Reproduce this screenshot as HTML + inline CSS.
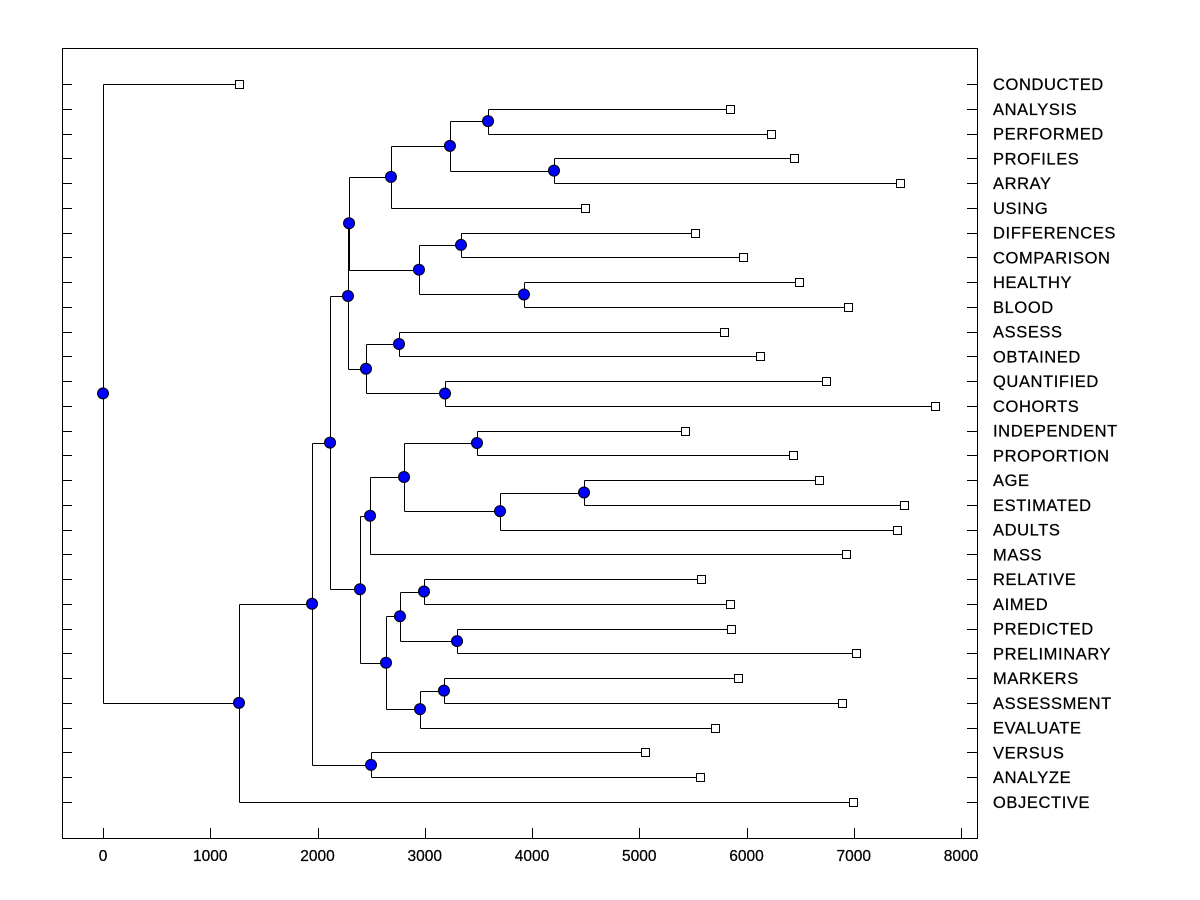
<!DOCTYPE html>
<html><head><meta charset="utf-8"><style>
html,body{margin:0;padding:0;background:#fff;}
svg{display:block;font-family:"Liberation Sans",Arial,sans-serif;}
</style></head><body>
<svg id="chart" width="1200" height="900"></svg>
<script>
const leafNames=["CONDUCTED","ANALYSIS","PERFORMED","PROFILES","ARRAY","USING","DIFFERENCES","COMPARISON","HEALTHY","BLOOD","ASSESS","OBTAINED","QUANTIFIED","COHORTS","INDEPENDENT","PROPORTION","AGE","ESTIMATED","ADULTS","MASS","RELATIVE","AIMED","PREDICTED","PRELIMINARY","MARKERS","ASSESSMENT","EVALUATE","VERSUS","ANALYZE","OBJECTIVE"];
const leafValues=[1268,5846,6228,6443,7431,4494,5520,5967,6490,6946,5790,6126,6741,7758,5427,6434,6676,7469,7403,6928,5576,5846,5855,7021,5921,6890,5706,5054,5566,6993];
const mergeLeft=[1,3,30,32,6,8,34,33,10,12,38,37,14,16,43,42,45,20,22,47,24,50,49,46,41,27,54,56,0];
const mergeRight=[2,4,31,5,7,9,35,36,11,13,39,40,15,17,18,44,19,21,23,48,25,26,51,52,53,28,55,29,57];
const mergeHeights=[3590,4205,3235,2685,3338,3925,2946,2294,2760,3189,2452,2284,3487,4485,3702,2807,2490,2993,3301,2769,3179,2956,2639,2396,2117,2499,1949,1268,0];
const xTicks=[0,1000,2000,3000,4000,5000,6000,7000,8000];

const NS="http://www.w3.org/2000/svg";
const svg=document.getElementById('chart');
const L=62,R=977,T=48,B=838;
const xs=v=>103+v*(858/8000);
const rowY=i=>84+i*(718/29);
function mk(tag,attrs,parent){const e=document.createElementNS(NS,tag);for(const k in attrs)e.setAttribute(k,attrs[k]);(parent||svg).appendChild(e);return e;}

const frame=mk('rect',{x:L+0.5,y:T+0.5,width:R-L,height:B-T,fill:'none',stroke:'#000','stroke-width':1});



const ticksG=mk('g',{stroke:'#000','stroke-width':1});


leafNames.forEach((n,i)=>{
  const y=Math.round(rowY(i))+0.5;
  mk('line',{x1:L,y1:y,x2:L+10,y2:y},ticksG);
  mk('line',{x1:R-10,y1:y,x2:R,y2:y},ticksG);
  const t=mk('text',{x:993,y:rowY(i)+6,'font-size':16.5,fill:'#000','letter-spacing':0.6,stroke:'#000','stroke-width':0.25});
  t.textContent=n;
  
  
});
xTicks.forEach(v=>{
  const x=Math.round(xs(v))+0.5;
  mk('line',{x1:x,y1:B,x2:x,y2:B-10},ticksG);
  const t=mk('text',{x:xs(v),y:861,'font-size':15.5,'text-anchor':'middle',fill:'#000',stroke:'#000','stroke-width':0.25});
  t.textContent=v;
  
  
});

const nodeX=leafValues.slice(), nodeY=leafNames.map((n,i)=>rowY(i));
const linesG=mk('g',{stroke:'#000','stroke-width':1,fill:'none'});


mergeHeights.forEach((h,k)=>{
  const a=mergeLeft[k],b=mergeRight[k];
  const x=Math.round(xs(h))+0.5;
  const ya=Math.round(nodeY[a])+0.5,yb=Math.round(nodeY[b])+0.5;
  mk('line',{x1:x,y1:ya,x2:x,y2:yb},linesG);
  mk('line',{x1:x,y1:ya,x2:xs(nodeX[a]),y2:ya},linesG);
  mk('line',{x1:x,y1:yb,x2:xs(nodeX[b]),y2:yb},linesG);
  nodeX.push(h);nodeY.push((nodeY[a]+nodeY[b])/2);
});
leafNames.forEach((n,i)=>{
  const r=mk('rect',{x:Math.round(xs(leafValues[i]))-3.5,y:Math.round(rowY(i))-3.5,width:8,height:8,fill:'#fff',stroke:'#000'});
  
  
});
mergeHeights.forEach((h,k)=>{
  const c=mk('circle',{cx:xs(h),cy:nodeY[leafNames.length+k],r:5.5,fill:'#0000ff',stroke:'#000'});
  
  
});
</script>
</body></html>
